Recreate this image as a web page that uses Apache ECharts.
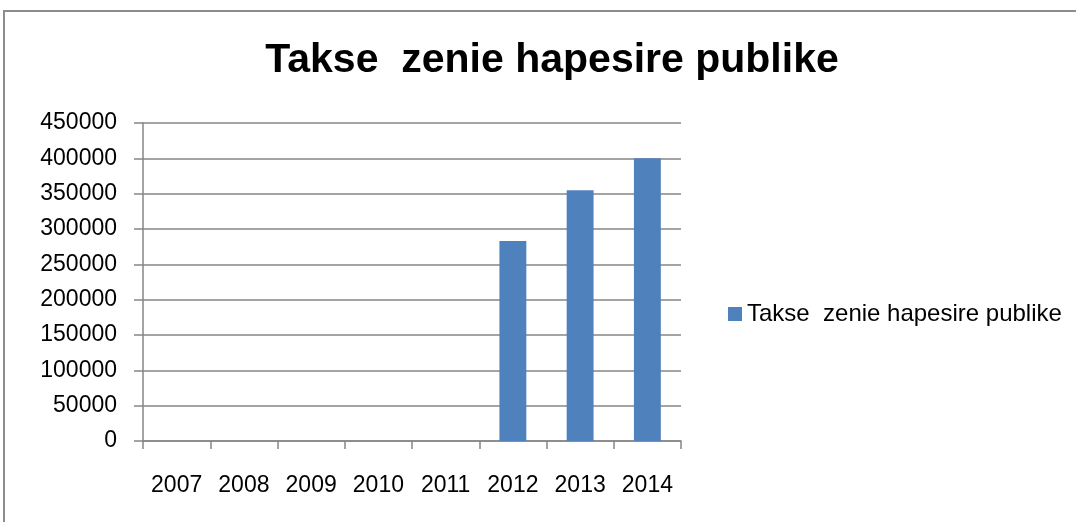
<!DOCTYPE html>
<html>
<head>
<meta charset="utf-8">
<title>Takse zenie hapesire publike</title>
<script src="https://cdn.jsdelivr.net/npm/echarts@6/dist/echarts.min.js"></script>
<style>
  * { margin: 0; padding: 0; box-sizing: border-box; }
  body { background: #ffffff; width: 1076px; height: 522px; overflow: hidden; }
  #chart { width: 1076px; height: 522px; }
</style>
</head>
<body>
<div id="chart"></div>
<script>
// data
const chartTitle = 'Takse  zenie hapesire publike';
const seriesName = 'Takse  zenie hapesire publike';
const years = ['2007', '2008', '2009', '2010', '2011', '2012', '2013', '2014'];
const values = [0, 0, 0, 0, 0, 283000, 355000, 400000];
const yTicks = { min: 0, max: 450000, interval: 50000 };

const fontFamily = "'Liberation Sans', 'DejaVu Sans', sans-serif";
const gridGray = '#868686';

const chart = echarts.init(document.getElementById('chart'));

chart.setOption({
  animation: false,
  backgroundColor: '#ffffff',
  title: {
    text: chartTitle,
    left: 547,
    top: 35,
    textAlign: 'center',
    textStyle: { fontFamily, fontSize: 41, fontWeight: 'bold', color: '#000000' }
  },
  legend: {
    data: [seriesName],
    left: 723,
    top: 297,
    itemWidth: 14,
    itemHeight: 14,
    itemGap: 8,
    icon: 'rect',
    textStyle: { fontFamily, fontSize: 24, color: '#000000' }
  },
  grid: { left: 143, right: 395, top: 123, bottom: 81 },
  xAxis: {
    type: 'category',
    data: years,
    boundaryGap: true,
    axisLine: { lineStyle: { color: gridGray, width: 1.5 } },
    axisTick: { show: true, length: 8, alignWithLabel: false, lineStyle: { color: gridGray, width: 1.5 } },
    axisLabel: { margin: 33, fontFamily, fontSize: 23, color: '#000000' }
  },
  yAxis: {
    type: 'value',
    min: yTicks.min,
    max: yTicks.max,
    interval: yTicks.interval,
    axisLine: { show: true, lineStyle: { color: gridGray, width: 1.5 } },
    axisTick: { show: true, length: 9, lineStyle: { color: gridGray, width: 1.5 } },
    splitLine: { lineStyle: { color: gridGray, width: 1.5 } },
    axisLabel: {
      margin: 26,
      fontFamily,
      fontSize: 23,
      color: '#000000',
      formatter: (v) => String(v)
    }
  },
  series: [{
    name: seriesName,
    type: 'bar',
    data: values,
    barWidth: '40%',
    itemStyle: { color: '#4F81BD' }
  }],
  graphic: [{
    // outer chart frame, only the top and left edges are in view
    type: 'rect',
    silent: true,
    shape: { x: 4, y: 11, width: 1200, height: 700 },
    style: { fill: 'none', stroke: '#8c8c8c', lineWidth: 2 }
  }]
});
</script>
</body>
</html>
